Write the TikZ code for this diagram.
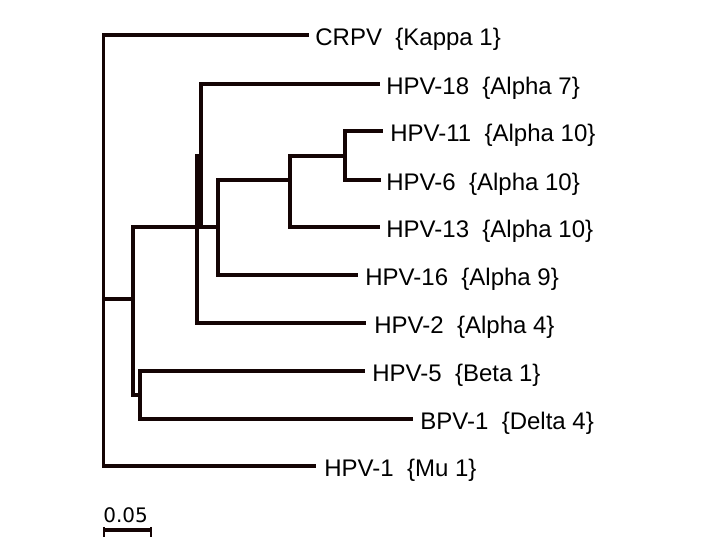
\documentclass[tikz,border=0pt]{standalone}
\usepackage{fontspec}
\setmainfont{Liberation Sans}
\newfontfamily\barfont{DejaVu Sans}
\definecolor{treecol}{RGB}{20,4,4}
\tikzset{
  branchline/.style={draw=treecol,line width=1.8pt,line join=miter},
  leaf/.style={anchor=base west,inner sep=0pt,font=\fontsize{12}{14}\selectfont},
}

\begin{document}
\begin{tikzpicture}[x=0.5pt,y=-0.5pt]
\useasboundingbox (0,0) rectangle (720,540);
% the inner nodes of the tree
\coordinate (root) at (103.5,299);
\coordinate (n1) at (133,299);
\coordinate (alpha) at (201,227);
\coordinate (sub) at (218,227);
\coordinate (n2) at (290,180);
\coordinate (n3) at (345,156);
\coordinate (beta) at (140,395);
\coordinate (bar) at (197,154);
% the tips and their labels
\foreach \n/\tx/\ty/\lx/\txt in {
  crpv/309/35/315/{CRPV\ \ \{Kappa 1\}},
  hpv18/380/84/386/{HPV-18\ \ \{Alpha 7\}},
  hpv11/383/131/390/{HPV-11\ \ \{Alpha 10\}},
  hpv6/381/180/386/{HPV-6\ \ \{Alpha 10\}},
  hpv13/380/227/386/{HPV-13\ \ \{Alpha 10\}},
  hpv16/358/275/365/{HPV-16\ \ \{Alpha 9\}},
  hpv2/366/323/374/{HPV-2\ \ \{Alpha 4\}},
  hpv5/365/371/372/{HPV-5\ \ \{Beta 1\}},
  bpv1/413/419/420/{BPV-1\ \ \{Delta 4\}},
  hpv1/316/466/324/{HPV-1\ \ \{Mu 1\}}}
{
  \coordinate (t-\n) at (\tx,\ty);
  \node[leaf] (l-\n) at (\lx,\ty+11) {\txt};
}
% the branches
\draw[branchline] (root) |- (t-crpv);
\draw[branchline] (root) |- (t-hpv1);
\draw[branchline] (root) -- (n1);
\draw[branchline] (n1) |- (sub);
\draw[branchline] (n1) |- (beta);
\draw[branchline] (beta) |- (t-hpv5);
\draw[branchline] (beta) |- (t-bpv1);
\draw[branchline] (alpha) |- (t-hpv18);
\draw[branchline] (bar) |- (t-hpv2);
\draw[branchline] (sub) |- (n2);
\draw[branchline] (sub) |- (t-hpv16);
\draw[branchline] (n2) |- (n3);
\draw[branchline] (n2) |- (t-hpv13);
\draw[branchline] (n3) |- (t-hpv11);
\draw[branchline] (n3) |- (t-hpv6);
% the scale bar
\coordinate (sb-l) at (104,530);
\coordinate (sb-r) at (151,530);
\draw[treecol,line width=1.8pt] (sb-l) -- (sb-r);
\foreach \p in {sb-l,sb-r}
  \draw[treecol,line width=0.9pt] ([yshift=1.5pt]\p) -- ([yshift=-3.5pt]\p);
\node[anchor=base west,inner sep=0pt,font=\barfont\fontsize{10}{12}\selectfont] (sb-txt) at (103,523) {0.05};
\end{tikzpicture}
\end{document}
